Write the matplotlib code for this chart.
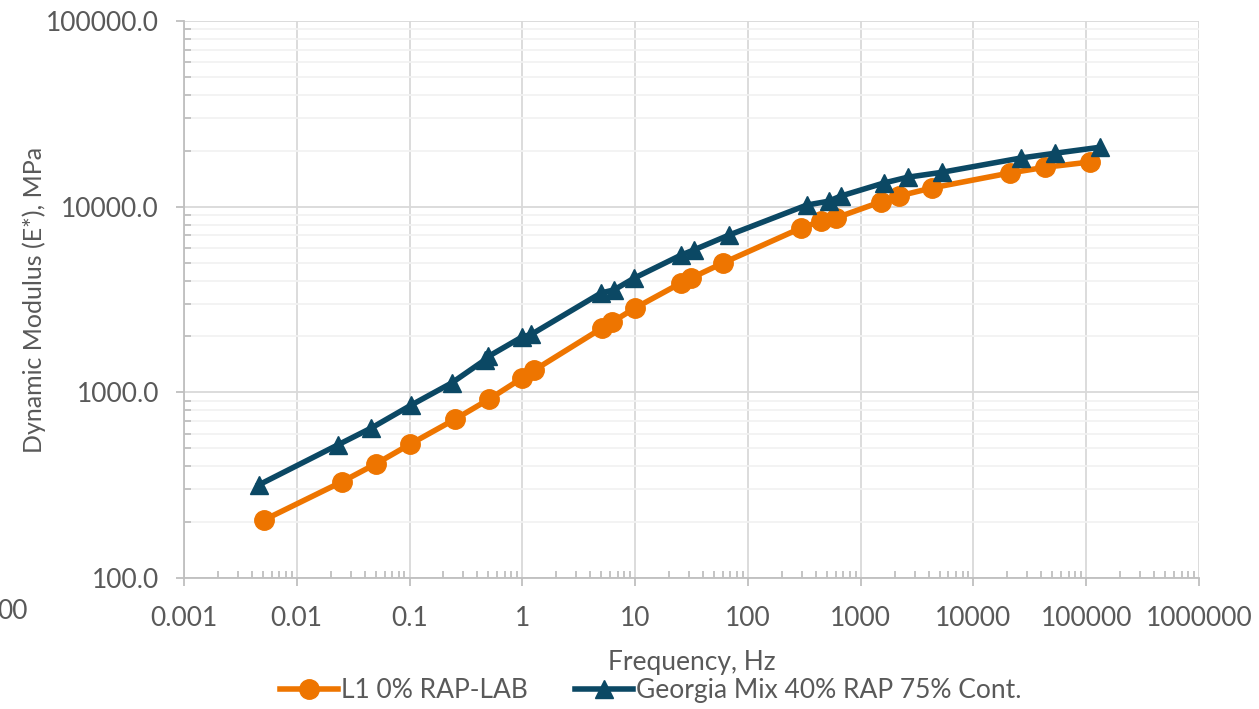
import matplotlib.pyplot as plt
from matplotlib.ticker import LogLocator, FixedLocator, NullFormatter, FuncFormatter

# Data
freq_l1 = [0.0051, 0.025, 0.05, 0.102, 0.255, 0.51, 1.0, 1.28, 5.1, 6.25, 10.0, 25.5, 31.3, 60,
           294, 443, 601, 1500, 2170, 4250, 21200, 43300, 108000]
mod_l1 = [205, 329, 411, 527, 718, 920, 1195, 1318, 2220, 2390, 2845, 3880, 4120, 4970,
          7660, 8360, 8690, 10600, 11400, 12600, 15200, 16300, 17400]

freq_ga = [0.0046, 0.023, 0.046, 0.104, 0.236, 0.47, 0.50, 1.0, 1.2, 5.0, 6.5, 9.8, 25.5, 33, 68,
           333, 521, 665, 1600, 2600, 5210, 26600, 53200, 133000]
mod_ga = [317, 520, 643, 855, 1122, 1500, 1560, 1990, 2050, 3430, 3560, 4120, 5480, 5840, 7030,
          10200, 10700, 11400, 13400, 14400, 15300, 18300, 19400, 20900]

x_ticks = [0.001, 0.01, 0.1, 1, 10, 100, 1000, 10000, 100000, 1000000]
x_labels = ['0.001', '0.01', '0.1', '1', '10', '100', '1000', '10000', '100000', '1000000']
y_ticks = [100, 1000, 10000, 100000]

orange = '#EE7500'
navy = '#0B4864'
txt = '#595959'

plt.rcParams['font.family'] = ['Lato', 'DejaVu Sans']

fig = plt.figure(figsize=(12.59, 7.09), dpi=100)
ax = fig.add_axes([0.1461, 0.1848, 0.8063, 0.7856])

ax.plot(freq_l1, mod_l1, '-o', color=orange, lw=4, ms=14, label='L1 0% RAP-LAB', zorder=3)
ax.plot(freq_ga, mod_ga, '-^', color=navy, lw=4, ms=13, label='Georgia Mix 40% RAP 75% Cont.', zorder=4)

ax.set_xscale('log')
ax.set_yscale('log')
ax.set_xlim(0.001, 1000000)
ax.set_ylim(100, 100000)

ax.xaxis.set_major_locator(FixedLocator(x_ticks))
ax.set_xticklabels(x_labels)
ax.yaxis.set_major_locator(FixedLocator(y_ticks))
ax.yaxis.set_major_formatter(FuncFormatter(lambda v, p: f'{v:.1f}'))
ax.xaxis.set_minor_locator(LogLocator(base=10, subs=range(2, 10), numticks=20))
ax.yaxis.set_minor_locator(LogLocator(base=10, subs=range(2, 10), numticks=20))
ax.xaxis.set_minor_formatter(NullFormatter())
ax.yaxis.set_minor_formatter(NullFormatter())

# grid: vertical major only, horizontal major + minor
ax.grid(True, which='major', axis='both', color='#D9D9D9', lw=1.3, zorder=0)
ax.grid(True, which='minor', axis='y', color='#F2F2F2', lw=1.3, zorder=0)
ax.set_axisbelow(True)

for s in ['top', 'right']:
    ax.spines[s].set_visible(False)
for s in ['left', 'bottom']:
    ax.spines[s].set_color('#BFBFBF')
    ax.spines[s].set_linewidth(1.3)

ax.tick_params(which='major', direction='out', length=6, color='#BFBFBF', width=1.3,
               labelsize=19, labelcolor=txt)
ax.tick_params(axis='x', which='major', pad=14)
ax.tick_params(axis='y', which='major', pad=12)
ax.tick_params(which='minor', direction='in', length=5, color='#BFBFBF', width=1.3)

ax.set_xlabel('Frequency, Hz', fontsize=19, color=txt, labelpad=14)
ax.set_ylabel('Dynamic Modulus (E*), MPa', fontsize=18, color=txt)
ax.yaxis.set_label_coords(-0.136, 0.5)

ax.legend(loc='center', bbox_to_anchor=(0.517, 0.026), bbox_transform=fig.transFigure,
          ncol=2, frameon=False, fontsize=19, labelcolor=txt, handlelength=2.2,
          handletextpad=0.1, columnspacing=1.8)

# clipped label at the far left edge
fig.text(-0.002, 0.138, '00', fontsize=19, color=txt, ha='left', va='center')

fig.savefig('out.png', dpi=100)
